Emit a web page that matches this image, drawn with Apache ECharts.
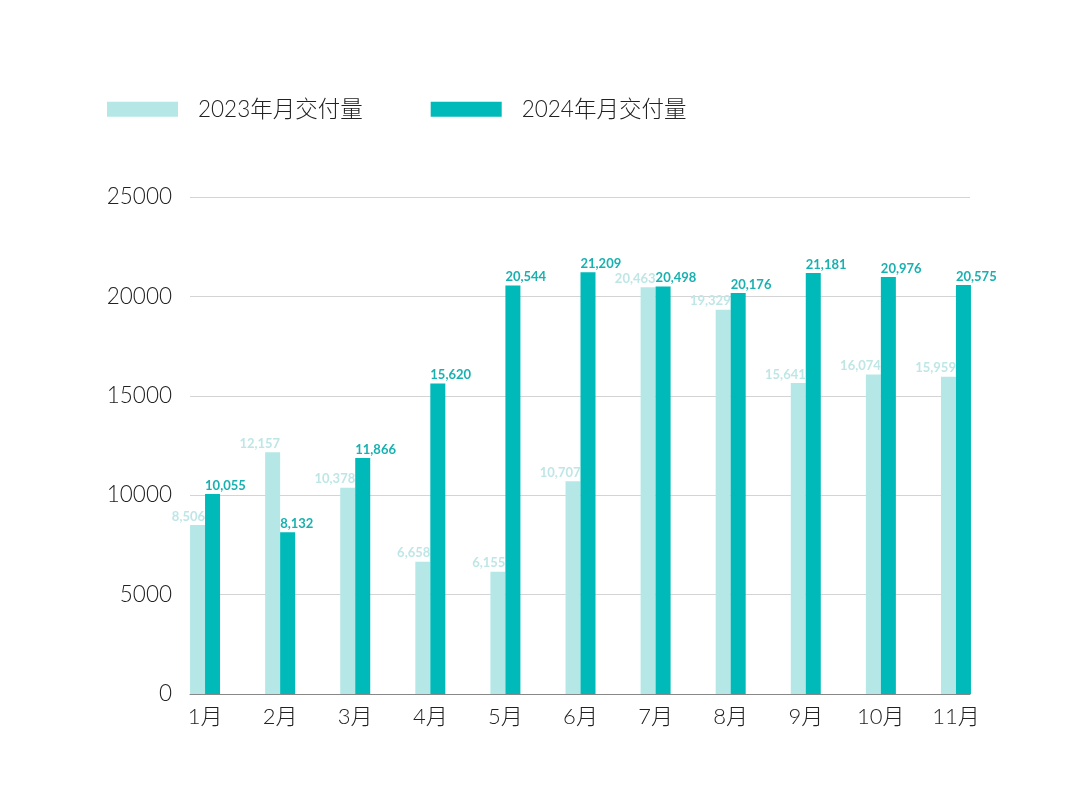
<!DOCTYPE html>
<html><head><meta charset="utf-8">
<script src="https://cdn.jsdelivr.net/npm/echarts@6/dist/echarts.min.js"></script>
<style>html,body{margin:0;padding:0;background:#fff}#c{width:1080px;height:810px}</style>
</head><body><div id="c"></div>
<script>
const categories = ['1月','2月','3月','4月','5月','6月','7月','8月','9月','10月','11月'];
const series2023 = [8506, 12157, 10378, 6658, 6155, 10707, 20463, 19329, 15641, 16074, 15959];
const series2024 = [10055, 8132, 11866, 15620, 20544, 21209, 20498, 20176, 21181, 20976, 20575];
const seriesNames = ['2023年月交付量', '2024年月交付量'];
const yTicks = {min: 0, max: 25000, interval: 5000};

const FONT = 'Lato, "Noto Sans CJK SC", sans-serif';
const chart = echarts.init(document.getElementById('c'));
chart.setOption({
  backgroundColor: '#fff',
  animation: false,
  legend: {
    left: 107, top: 98, padding: 0,
    itemWidth: 71, itemHeight: 15, itemGap: 68,
    icon: 'rect',
    textStyle: {fontFamily: FONT, fontSize: 22.5, fontWeight: 300, color: '#222', padding: [0, 0, 0, 15]},
    data: seriesNames
  },
  grid: [
    {left: 190, right: 110, top: 197, bottom: 116},
    {left: 167.5, right: 86.5, top: 197, bottom: 116}
  ],
  xAxis: [
    {type: 'category', gridIndex: 0, data: categories,
     axisLine: {show: true, lineStyle: {color: '#888', width: 1}},
     axisTick: {show: false}, axisLabel: {show: false}},
    {type: 'category', gridIndex: 1, data: categories,
     axisLine: {show: false}, axisTick: {show: false},
     axisLabel: {fontFamily: FONT, fontSize: 22, fontWeight: 300, color: '#222', margin: 12}}
  ],
  yAxis: [
    {type: 'value', gridIndex: 0, min: yTicks.min, max: yTicks.max, interval: yTicks.interval,
     axisLine: {show: false}, axisTick: {show: false},
     axisLabel: {fontFamily: FONT, fontSize: 22.5, fontWeight: 300, color: '#222', margin: 18,
       formatter: v => String(v)},
     splitLine: {lineStyle: {color: '#d4d4d4', width: 1}}},
    {type: 'value', gridIndex: 1, min: yTicks.min, max: yTicks.max, interval: yTicks.interval,
     show: false, splitLine: {show: false}}
  ],
  series: [
    {name: seriesNames[0], type: 'bar', xAxisIndex: 1, yAxisIndex: 1, data: series2023,
     barWidth: 15, barGap: '0%',
     itemStyle: {color: '#b5e7e7'},
     label: {show: true, position: ['100%', -2], align: 'right', verticalAlign: 'bottom',
       fontFamily: FONT, fontSize: 13, fontWeight: 'bold', color: '#bfe6e6',
       formatter: p => p.value.toLocaleString('en-US')}},
    {name: seriesNames[1], type: 'bar', xAxisIndex: 1, yAxisIndex: 1, data: series2024,
     barWidth: 15, barGap: '0%',
     itemStyle: {color: '#00b9b9'},
     label: {show: true, position: [0, -2], align: 'left', verticalAlign: 'bottom',
       fontFamily: FONT, fontSize: 13, fontWeight: 'bold', color: '#19b0b0',
       formatter: p => p.value.toLocaleString('en-US')}}
  ]
});
</script></body></html>
